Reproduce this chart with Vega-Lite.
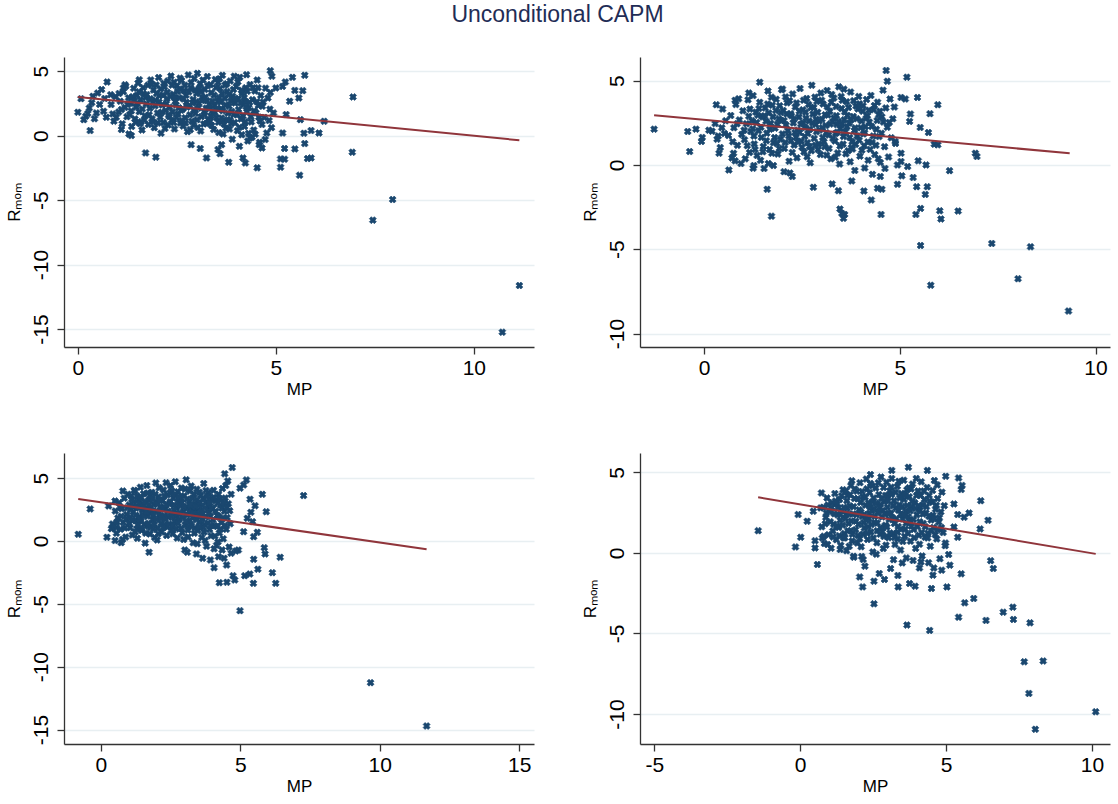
{
"$schema":"https://vega.github.io/schema/vega-lite/v6.json",
"background":"white",
"padding":{"left":5,"top":4,"right":4,"bottom":4},
"title":{"text":"Unconditional CAPM","fontSize":23,"font":"Liberation Sans","fontWeight":"normal","color":"#1f2d56","anchor":"middle","offset":30},
"config":{
 "font":"Liberation Sans",
 "view":{"stroke":null},
 "axis":{"domainColor":"#333333","domainWidth":1.3,"tickColor":"#333333","tickWidth":1.3,"tickSize":7,"labelFont":"Liberation Sans","labelFontSize":21,"labelColor":"#000000","labelPadding":3,"titleFont":"Liberation Sans","titleFontSize":17,"titleFontWeight":"normal","titleColor":"#000000","titlePadding":3,"grid":false,"labelExpr":"datum.value + ''"},
 "axisY":{"grid":true,"gridColor":"#e8eff2","gridWidth":1.6,"labelAngle":-90,"labelPadding":6,"titlePadding":7},
 "point":{"shape":"cross","angle":45,"filled":true,"size":50,"color":"#1a476f","opacity":1,"stroke":"#1a476f","strokeWidth":0.6}
},
"datasets":{
"a":[{"x":6.95,"y":3.0},{"x":6.93,"y":-1.29},{"x":7.95,"y":-4.96},{"x":7.45,"y":-6.56},{"x":11.15,"y":-11.63},{"x":10.72,"y":-15.25},{"x":6.22,"y":1.11},{"x":6.09,"y":0.2},{"x":5.89,"y":0.39},{"x":5.73,"y":4.68},{"x":5.68,"y":3.49},{"x":5.48,"y":3.51},{"x":5.42,"y":4.52},{"x":5.58,"y":2.92},{"x":5.62,"y":1.24},{"x":5.71,"y":0.18},{"x":5.73,"y":-0.62},{"x":5.48,"y":-1.03},{"x":5.22,"y":-1.0},{"x":5.8,"y":-1.78},{"x":5.89,"y":-1.73},{"x":5.6,"y":-3.07},{"x":5.12,"y":-1.81},{"x":5.22,"y":-1.83},{"x":5.12,"y":-2.45},{"x":4.53,"y":-2.5},{"x":4.23,"y":-2.12},{"x":4.17,"y":-1.73},{"x":3.81,"y":-2.07},{"x":3.25,"y":-1.73},{"x":3.09,"y":-1.0},{"x":2.86,"y":-0.7},{"x":1.97,"y":-1.68},{"x":1.71,"y":-1.34},{"x":0.31,"y":0.39},{"x":0.0,"y":1.81},{"x":0.08,"y":2.87},{"x":0.74,"y":4.16},{"x":1.55,"y":4.34},{"x":4.86,"y":5.04},{"x":4.9,"y":4.6},{"x":5.24,"y":4.16},{"x":5.17,"y":3.82},{"x":5.0,"y":3.7},{"x":5.26,"y":1.63},{"x":5.17,"y":0.2},{"x":4.94,"y":1.76},{"x":5.35,"y":2.66},{"x":4.65,"y":-0.96},{"x":4.58,"y":-0.7},{"x":4.35,"y":-0.18},{"x":3.63,"y":-0.7},{"x":3.54,"y":-1.08},{"x":3.59,"y":-1.4},{"x":4.08,"y":-0.83},{"x":1.35,"y":0.0},{"x":1.29,"y":0.13},{"x":1.1,"y":0.47},{"x":0.5,"y":3.3},{"x":0.6,"y":3.57},{"x":0.29,"y":2.14},{"x":0.2,"y":1.5},{"x":0.15,"y":1.24},{"x":0.47,"y":1.76},{"x":0.65,"y":1.89},{"x":0.83,"y":3.18},{"x":1.15,"y":3.7},{"x":1.19,"y":3.95},{"x":0.35,"y":2.55},{"x":0.42,"y":1.31},{"x":0.55,"y":2.42},{"x":0.68,"y":2.88},{"x":0.72,"y":1.42},{"x":0.25,"y":1.71},{"x":0.38,"y":3.05},
{"x":0.84,"y":2.41},{"x":0.91,"y":1.12},{"x":0.95,"y":3.02},{"x":1.03,"y":1.83},{"x":1.07,"y":2.66},{"x":1.12,"y":0.92},{"x":1.15,"y":3.41},{"x":1.19,"y":2.18},{"x":1.24,"y":1.47},{"x":1.28,"y":2.93},{"x":0.88,"y":1.68},{"x":1.21,"y":3.83},
{"x":1.33,"y":2.51},{"x":1.36,"y":0.71},{"x":1.41,"y":3.67},{"x":1.44,"y":1.29},{"x":1.47,"y":2.22},{"x":1.52,"y":4.08},{"x":1.55,"y":1.86},{"x":1.58,"y":2.78},{"x":1.62,"y":0.43},{"x":1.66,"y":3.24},{"x":1.69,"y":1.54},{"x":1.73,"y":2.47},{"x":1.77,"y":3.91},{"x":1.35,"y":1.92},{"x":1.49,"y":3.12},{"x":1.6,"y":1.08},{"x":1.71,"y":2.96},{"x":1.78,"y":0.86},
{"x":1.82,"y":2.13},{"x":1.84,"y":4.32},{"x":1.87,"y":1.31},{"x":1.91,"y":3.54},{"x":1.93,"y":0.62},{"x":1.96,"y":2.72},{"x":2.01,"y":1.76},{"x":2.04,"y":4.51},{"x":2.06,"y":3.09},{"x":2.1,"y":0.18},{"x":2.13,"y":2.38},{"x":2.16,"y":1.02},{"x":2.19,"y":3.78},{"x":2.22,"y":1.94},{"x":2.25,"y":2.87},{"x":2.28,"y":0.83},{"x":1.89,"y":2.58},{"x":1.98,"y":3.93},{"x":2.08,"y":1.43},{"x":2.17,"y":4.07},{"x":2.26,"y":3.36},{"x":2.29,"y":1.58},
{"x":2.32,"y":2.21},{"x":2.35,"y":4.62},{"x":2.37,"y":1.19},{"x":2.41,"y":3.21},{"x":2.44,"y":0.52},{"x":2.46,"y":2.64},{"x":2.5,"y":3.87},{"x":2.53,"y":1.67},{"x":2.56,"y":2.94},{"x":2.59,"y":0.97},{"x":2.62,"y":4.28},{"x":2.65,"y":2.07},{"x":2.68,"y":3.49},{"x":2.71,"y":1.38},{"x":2.74,"y":2.58},{"x":2.77,"y":0.31},{"x":2.79,"y":4.71},{"x":2.39,"y":1.84},{"x":2.48,"y":2.39},{"x":2.57,"y":3.62},{"x":2.66,"y":0.74},{"x":2.73,"y":3.14},{"x":2.43,"y":4.14},{"x":2.61,"y":1.96},
{"x":2.82,"y":2.32},{"x":2.85,"y":3.72},{"x":2.88,"y":1.12},{"x":2.91,"y":2.81},{"x":2.94,"y":4.44},{"x":2.97,"y":1.73},{"x":3.0,"y":3.26},{"x":3.03,"y":0.63},{"x":3.06,"y":2.49},{"x":3.09,"y":4.02},{"x":3.12,"y":1.47},{"x":3.15,"y":2.96},{"x":3.18,"y":0.91},{"x":3.21,"y":3.58},{"x":3.24,"y":2.13},{"x":3.27,"y":4.59},{"x":3.29,"y":1.26},{"x":2.84,"y":0.46},{"x":2.93,"y":1.98},{"x":3.02,"y":4.83},{"x":3.11,"y":3.41},{"x":3.2,"y":1.83},{"x":3.26,"y":2.71},{"x":2.99,"y":2.62},
{"x":3.32,"y":2.44},{"x":3.35,"y":3.97},{"x":3.38,"y":0.78},{"x":3.41,"y":1.91},{"x":3.44,"y":3.13},{"x":3.47,"y":4.36},{"x":3.5,"y":1.38},{"x":3.53,"y":2.67},{"x":3.56,"y":0.24},{"x":3.59,"y":3.66},{"x":3.62,"y":2.08},{"x":3.65,"y":4.68},{"x":3.68,"y":1.17},{"x":3.71,"y":2.89},{"x":3.74,"y":0.57},{"x":3.77,"y":3.43},{"x":3.79,"y":1.74},{"x":3.36,"y":1.52},{"x":3.45,"y":2.31},{"x":3.54,"y":4.13},{"x":3.63,"y":1.36},{"x":3.72,"y":3.92},{"x":3.57,"y":2.94},{"x":3.67,"y":0.12},
{"x":3.82,"y":2.27},{"x":3.85,"y":4.24},{"x":3.88,"y":0.94},{"x":3.91,"y":3.06},{"x":3.94,"y":1.63},{"x":3.97,"y":2.53},{"x":4.0,"y":3.81},{"x":4.03,"y":0.38},{"x":4.06,"y":2.02},{"x":4.09,"y":4.52},{"x":4.12,"y":1.29},{"x":4.15,"y":3.33},{"x":4.18,"y":2.41},{"x":4.21,"y":0.71},{"x":4.24,"y":3.71},{"x":4.27,"y":1.84},{"x":4.29,"y":-0.41},{"x":3.84,"y":1.22},{"x":3.95,"y":4.61},{"x":4.05,"y":2.86},{"x":4.14,"y":0.07},{"x":4.22,"y":2.68},{"x":3.9,"y":-0.28},{"x":4.26,"y":4.73},
{"x":4.32,"y":2.16},{"x":4.35,"y":3.96},{"x":4.38,"y":1.06},{"x":4.41,"y":2.79},{"x":4.44,"y":0.43},{"x":4.47,"y":3.46},{"x":4.5,"y":1.77},{"x":4.53,"y":4.31},{"x":4.56,"y":2.34},{"x":4.59,"y":-0.52},{"x":4.62,"y":3.12},{"x":4.65,"y":0.86},{"x":4.68,"y":2.61},{"x":4.71,"y":1.41},{"x":4.74,"y":3.68},{"x":4.77,"y":0.21},{"x":4.8,"y":2.92},{"x":4.83,"y":1.17},{"x":4.86,"y":3.34},{"x":4.89,"y":0.62},{"x":4.4,"y":-0.12},{"x":4.57,"y":1.43},{"x":4.73,"y":-0.31},{"x":4.85,"y":2.05},
{"x":1.31,"y":1.63},{"x":1.38,"y":3.02},{"x":1.43,"y":2.71},{"x":1.46,"y":1.04},{"x":1.5,"y":2.49},{"x":1.54,"y":3.41},{"x":1.57,"y":0.92},{"x":1.63,"y":2.06},{"x":1.65,"y":3.72},{"x":1.68,"y":1.21},{"x":1.74,"y":3.18},{"x":1.8,"y":1.62},{"x":1.83,"y":2.86},{"x":1.86,"y":3.98},{"x":1.9,"y":1.08},{"x":1.95,"y":2.31},{"x":1.99,"y":3.26},{"x":2.02,"y":0.97},{"x":2.05,"y":2.61},{"x":2.09,"y":3.62},{"x":2.12,"y":1.81},{"x":2.15,"y":3.14},{"x":2.2,"y":0.56},{"x":2.23,"y":2.47},{"x":2.27,"y":4.24},{"x":2.31,"y":1.47},{"x":2.34,"y":3.03},{"x":2.38,"y":3.92},{"x":2.42,"y":1.02},{"x":2.45,"y":2.91},{"x":2.49,"y":1.41},{"x":2.52,"y":3.43},{"x":2.55,"y":2.16},{"x":2.58,"y":4.46},{"x":2.63,"y":1.18},{"x":2.67,"y":2.84},{"x":2.7,"y":3.91},{"x":2.72,"y":0.98},{"x":2.76,"y":2.21},{"x":2.8,"y":3.38},{"x":2.83,"y":1.62},{"x":2.86,"y":4.12},{"x":2.9,"y":2.53},{"x":2.92,"y":0.82},{"x":2.96,"y":3.54},{"x":3.01,"y":1.24},{"x":3.04,"y":2.14},{"x":3.07,"y":3.68},{"x":3.1,"y":0.36},{"x":3.13,"y":2.73},{"x":3.16,"y":4.31},{"x":3.19,"y":1.61},{"x":3.22,"y":2.98},{"x":3.25,"y":0.94},{"x":3.28,"y":3.86},{"x":3.31,"y":2.09},{"x":3.34,"y":1.12},{"x":3.37,"y":3.32},{"x":3.4,"y":2.66},{"x":3.43,"y":0.47},{"x":3.46,"y":1.79},{"x":3.49,"y":3.74},{"x":3.52,"y":2.12},{"x":3.55,"y":1.04},{"x":3.58,"y":4.41},{"x":3.61,"y":2.61},{"x":3.64,"y":3.27},{"x":3.66,"y":1.93},{"x":3.69,"y":0.89},{"x":3.73,"y":2.38},{"x":3.76,"y":4.02},{"x":3.78,"y":1.21},{"x":3.81,"y":3.18},{"x":3.83,"y":0.51},{"x":3.86,"y":2.69},{"x":3.89,"y":1.88},{"x":3.93,"y":3.58},{"x":3.96,"y":1.02},{"x":3.99,"y":2.87},{"x":4.02,"y":1.61},{"x":4.04,"y":4.17},{"x":4.08,"y":0.64},{"x":4.11,"y":2.54},{"x":4.13,"y":3.52},{"x":4.17,"y":1.52},{"x":4.2,"y":2.96},{"x":4.23,"y":1.07},{"x":4.25,"y":2.24},{"x":4.28,"y":3.44},{"x":4.31,"y":0.18},{"x":4.34,"y":2.57},{"x":4.37,"y":1.46},{"x":4.42,"y":3.71},{"x":4.45,"y":1.92},{"x":4.48,"y":0.11},{"x":4.52,"y":2.62},{"x":4.55,"y":3.72},{"x":4.6,"y":1.14},{"x":4.66,"y":2.28},{"x":1.26,"y":2.41},{"x":1.1,"y":2.02},{"x":1.04,"y":3.27},{"x":0.97,"y":1.42}],
"b":[{"x":-1.28,"y":2.12},{"x":-0.42,"y":1.98},{"x":-0.21,"y":2.12},{"x":-0.37,"y":0.79},{"x":-0.05,"y":1.63},{"x":-0.07,"y":1.39},{"x":0.63,"y":-0.3},{"x":1.61,"y":-1.45},{"x":1.72,"y":-3.04},{"x":1.42,"y":4.9},{"x":2.0,"y":4.5},{"x":4.65,"y":5.6},{"x":4.68,"y":4.96},{"x":5.18,"y":5.2},{"x":5.45,"y":4.0},{"x":5.97,"y":3.57},{"x":5.77,"y":3.04},{"x":5.73,"y":1.92},{"x":5.52,"y":2.22},{"x":5.88,"y":1.23},{"x":5.97,"y":1.19},{"x":6.93,"y":0.69},{"x":6.97,"y":0.5},{"x":6.27,"y":-0.34},{"x":5.67,"y":0.0},{"x":5.47,"y":0.24},{"x":5.34,"y":-0.75},{"x":5.43,"y":-1.29},{"x":5.7,"y":-1.29},{"x":5.65,"y":-1.75},{"x":5.53,"y":-2.58},{"x":5.41,"y":-2.94},{"x":6.02,"y":-2.72},{"x":6.05,"y":-3.21},{"x":6.49,"y":-2.74},{"x":5.53,"y":-4.78},{"x":7.35,"y":-4.66},{"x":8.34,"y":-4.86},{"x":5.79,"y":-7.14},{"x":8.02,"y":-6.75},{"x":9.31,"y":-8.67},{"x":4.52,"y":-2.94},{"x":4.27,"y":-2.08},{"x":4.08,"y":-1.55},{"x":3.56,"y":-3.17},{"x":3.52,"y":-2.88},{"x":3.47,"y":-2.62},{"x":3.59,"y":-2.94},{"x":3.43,"y":-1.53},{"x":2.79,"y":-1.33},{"x":3.27,"y":-1.13},{"x":3.77,"y":-0.95},{"x":4.94,"y":-1.15},{"x":5.05,"y":-0.65},{"x":5.03,"y":0.2},{"x":4.94,"y":0.0},{"x":5.03,"y":0.69},{"x":5.2,"y":-0.1},{"x":5.25,"y":2.58},{"x":5.27,"y":3.02},{"x":5.14,"y":3.91},{"x":5.03,"y":4.0},{"x":4.88,"y":1.39},{"x":4.43,"y":-1.39},{"x":4.54,"y":-1.45},{"x":4.5,"y":-0.69},{"x":2.04,"y":-0.4},{"x":2.25,"y":-0.69},{"x":1.25,"y":-0.2},{"x":1.27,"y":-0.04},{"x":1.77,"y":-0.04},{"x":1.64,"y":0.08},{"x":0.79,"y":0.24},{"x":0.75,"y":0.69},{"x":0.38,"y":0.69},{"x":0.41,"y":1.03},{"x":0.31,"y":3.57},{"x":0.47,"y":3.31},{"x":0.79,"y":3.83},{"x":1.14,"y":4.27},{"x":0.2,"y":2.0},{"x":0.28,"y":2.45},{"x":0.36,"y":1.71},{"x":0.45,"y":2.2},{"x":0.52,"y":1.86},{"x":0.12,"y":2.06},{"x":0.55,"y":2.62},{"x":0.33,"y":1.52},
{"x":0.62,"y":1.74},{"x":0.68,"y":2.93},{"x":0.71,"y":0.41},{"x":0.76,"y":2.21},{"x":0.81,"y":3.58},{"x":0.85,"y":1.16},{"x":0.9,"y":2.67},{"x":0.94,"y":0.08},{"x":0.99,"y":3.21},{"x":1.03,"y":1.49},{"x":1.08,"y":2.44},{"x":1.12,"y":3.86},{"x":1.16,"y":0.73},{"x":1.19,"y":1.98},{"x":0.73,"y":1.37},{"x":0.88,"y":3.92},{"x":1.05,"y":0.36},{"x":1.14,"y":2.88},
{"x":1.22,"y":2.62},{"x":1.25,"y":4.11},{"x":1.28,"y":1.24},{"x":1.32,"y":3.13},{"x":1.35,"y":0.56},{"x":1.39,"y":2.02},{"x":1.42,"y":3.71},{"x":1.46,"y":1.63},{"x":1.49,"y":2.84},{"x":1.53,"y":-0.21},{"x":1.56,"y":3.37},{"x":1.6,"y":1.88},{"x":1.63,"y":4.38},{"x":1.67,"y":0.91},{"x":1.7,"y":2.47},{"x":1.74,"y":3.54},{"x":1.77,"y":1.31},{"x":1.27,"y":1.71},{"x":1.44,"y":0.27},{"x":1.58,"y":2.59},{"x":1.72,"y":4.02},{"x":1.37,"y":2.94},{"x":1.51,"y":1.09},{"x":1.65,"y":3.08},
{"x":1.81,"y":2.18},{"x":1.84,"y":3.89},{"x":1.88,"y":0.64},{"x":1.91,"y":2.74},{"x":1.95,"y":1.52},{"x":1.98,"y":4.46},{"x":2.02,"y":3.22},{"x":2.05,"y":0.98},{"x":2.09,"y":2.37},{"x":2.12,"y":3.68},{"x":2.16,"y":1.71},{"x":2.19,"y":-0.48},{"x":2.23,"y":2.91},{"x":2.26,"y":4.21},{"x":2.3,"y":1.18},{"x":2.33,"y":3.43},{"x":2.37,"y":0.42},{"x":2.39,"y":2.06},{"x":1.86,"y":1.27},{"x":1.97,"y":2.63},{"x":2.08,"y":4.03},{"x":2.17,"y":0.21},{"x":2.28,"y":2.49},{"x":2.35,"y":1.64},{"x":1.93,"y":3.51},{"x":2.21,"y":3.04},
{"x":2.42,"y":2.84},{"x":2.45,"y":4.53},{"x":2.48,"y":1.41},{"x":2.52,"y":3.27},{"x":2.55,"y":0.77},{"x":2.58,"y":2.22},{"x":2.62,"y":3.94},{"x":2.65,"y":1.86},{"x":2.68,"y":2.61},{"x":2.71,"y":0.13},{"x":2.75,"y":4.72},{"x":2.78,"y":3.02},{"x":2.81,"y":1.57},{"x":2.85,"y":2.39},{"x":2.88,"y":3.76},{"x":2.91,"y":0.92},{"x":2.95,"y":2.07},{"x":2.98,"y":4.27},{"x":2.44,"y":1.92},{"x":2.53,"y":2.48},{"x":2.63,"y":0.48},{"x":2.73,"y":3.41},{"x":2.83,"y":4.02},{"x":2.93,"y":1.24},{"x":2.59,"y":3.13},{"x":2.86,"y":2.71},{"x":2.69,"y":1.09},
{"x":3.01,"y":2.71},{"x":3.04,"y":3.61},{"x":3.08,"y":1.08},{"x":3.11,"y":2.33},{"x":3.14,"y":4.41},{"x":3.18,"y":1.77},{"x":3.21,"y":3.18},{"x":3.24,"y":0.36},{"x":3.28,"y":2.56},{"x":3.31,"y":3.97},{"x":3.34,"y":1.42},{"x":3.38,"y":2.92},{"x":3.41,"y":0.71},{"x":3.44,"y":4.63},{"x":3.48,"y":2.14},{"x":3.51,"y":3.34},{"x":3.55,"y":1.23},{"x":3.58,"y":2.68},{"x":3.03,"y":1.63},{"x":3.16,"y":2.96},{"x":3.26,"y":4.18},{"x":3.36,"y":1.86},{"x":3.46,"y":0.05},{"x":3.53,"y":3.83},{"x":3.13,"y":0.58},{"x":3.39,"y":2.39},{"x":3.57,"y":4.49},
{"x":3.61,"y":1.96},{"x":3.64,"y":3.74},{"x":3.68,"y":0.84},{"x":3.71,"y":2.48},{"x":3.74,"y":4.32},{"x":3.78,"y":1.38},{"x":3.81,"y":2.87},{"x":3.85,"y":-0.33},{"x":3.88,"y":3.49},{"x":3.91,"y":1.71},{"x":3.95,"y":4.06},{"x":3.98,"y":0.52},{"x":4.02,"y":2.61},{"x":4.05,"y":3.18},{"x":4.09,"y":1.14},{"x":4.12,"y":2.27},{"x":4.15,"y":3.88},{"x":4.19,"y":0.27},{"x":3.66,"y":2.93},{"x":3.76,"y":1.02},{"x":3.86,"y":2.19},{"x":3.97,"y":3.62},{"x":4.07,"y":1.84},{"x":4.17,"y":2.92},{"x":3.73,"y":0.19},{"x":4.1,"y":-0.18},
{"x":4.22,"y":2.54},{"x":4.26,"y":4.12},{"x":4.29,"y":1.33},{"x":4.33,"y":3.27},{"x":4.36,"y":0.61},{"x":4.4,"y":2.11},{"x":4.43,"y":3.72},{"x":4.47,"y":1.68},{"x":4.5,"y":0.14},{"x":4.54,"y":2.86},{"x":4.57,"y":4.43},{"x":4.61,"y":1.08},{"x":4.64,"y":3.38},{"x":4.68,"y":2.23},{"x":4.71,"y":0.47},{"x":4.75,"y":3.91},{"x":4.78,"y":1.61},{"x":4.82,"y":2.74},{"x":4.86,"y":3.43},{"x":4.89,"y":1.27},{"x":4.3,"y":-0.56},{"x":4.46,"y":2.97},{"x":4.62,"y":-0.21},{"x":4.73,"y":2.51},
{"x":1.02,"y":2.06},{"x":1.1,"y":1.14},{"x":1.17,"y":3.31},{"x":1.24,"y":2.14},{"x":1.3,"y":0.91},{"x":1.34,"y":2.51},{"x":1.4,"y":3.34},{"x":1.45,"y":2.23},{"x":1.5,"y":0.78},{"x":1.54,"y":2.91},{"x":1.59,"y":1.43},{"x":1.62,"y":3.61},{"x":1.68,"y":2.12},{"x":1.73,"y":0.69},{"x":1.76,"y":2.86},{"x":1.8,"y":1.62},{"x":1.83,"y":3.22},{"x":1.87,"y":2.41},{"x":1.92,"y":0.97},{"x":1.96,"y":3.11},{"x":2.0,"y":1.84},{"x":2.04,"y":2.63},{"x":2.07,"y":1.33},{"x":2.11,"y":3.02},{"x":2.14,"y":2.02},{"x":2.18,"y":3.81},{"x":2.22,"y":1.44},{"x":2.25,"y":0.74},{"x":2.29,"y":2.71},{"x":2.32,"y":1.92},{"x":2.36,"y":3.67},{"x":2.4,"y":1.36},{"x":2.43,"y":3.18},{"x":2.47,"y":2.41},{"x":2.5,"y":1.04},{"x":2.54,"y":3.84},{"x":2.57,"y":1.68},{"x":2.6,"y":2.77},{"x":2.64,"y":1.31},{"x":2.67,"y":3.59},{"x":2.7,"y":2.12},{"x":2.74,"y":0.84},{"x":2.77,"y":2.48},{"x":2.8,"y":3.41},{"x":2.84,"y":1.16},{"x":2.87,"y":1.96},{"x":2.9,"y":3.12},{"x":2.94,"y":2.61},{"x":2.97,"y":0.61},{"x":3.0,"y":3.84},{"x":3.02,"y":2.21},{"x":3.06,"y":1.37},{"x":3.09,"y":2.97},{"x":3.12,"y":1.91},{"x":3.15,"y":3.44},{"x":3.19,"y":0.98},{"x":3.22,"y":2.42},{"x":3.25,"y":3.71},{"x":3.29,"y":1.56},{"x":3.32,"y":2.78},{"x":3.35,"y":0.46},{"x":3.37,"y":3.46},{"x":3.4,"y":1.94},{"x":3.43,"y":2.57},{"x":3.47,"y":1.12},{"x":3.5,"y":4.06},{"x":3.52,"y":2.42},{"x":3.56,"y":1.68},{"x":3.59,"y":3.14},{"x":3.62,"y":0.66},{"x":3.65,"y":2.27},{"x":3.69,"y":3.41},{"x":3.72,"y":1.62},{"x":3.75,"y":2.66},{"x":3.79,"y":0.94},{"x":3.82,"y":3.81},{"x":3.84,"y":2.04},{"x":3.87,"y":1.22},{"x":3.9,"y":2.74},{"x":3.93,"y":3.32},{"x":3.96,"y":1.46},{"x":4.0,"y":2.21},{"x":4.03,"y":0.87},{"x":4.06,"y":3.51},{"x":4.1,"y":1.91},{"x":4.14,"y":2.76},{"x":4.18,"y":1.36},{"x":4.21,"y":3.24},{"x":4.24,"y":0.92},{"x":4.28,"y":2.28},{"x":4.32,"y":1.71},{"x":4.35,"y":3.52},{"x":4.39,"y":1.16},{"x":4.42,"y":2.64},{"x":4.45,"y":0.36},{"x":4.49,"y":3.18},{"x":4.53,"y":1.88},{"x":4.58,"y":2.54},{"x":0.96,"y":1.81},{"x":0.84,"y":2.44}],
"c":[{"x":-0.81,"y":0.53},{"x":-0.38,"y":2.55},{"x":0.22,"y":0.29},{"x":0.28,"y":2.79},{"x":0.51,"y":0.03},{"x":0.73,"y":-0.13},{"x":0.51,"y":3.18},{"x":0.79,"y":3.98},{"x":1.73,"y":-0.9},{"x":7.27,"y":3.61},{"x":4.99,"y":-5.54},{"x":9.67,"y":-11.27},{"x":11.68,"y":-14.72},{"x":4.71,"y":5.84},{"x":4.44,"y":5.34},{"x":4.55,"y":4.78},{"x":5.22,"y":4.86},{"x":5.12,"y":4.46},{"x":4.99,"y":4.2},{"x":5.79,"y":3.71},{"x":5.35,"y":3.32},{"x":5.53,"y":2.81},{"x":5.93,"y":2.33},{"x":5.38,"y":2.28},{"x":5.25,"y":1.8},{"x":5.44,"y":1.54},{"x":5.12,"y":0.74},{"x":5.61,"y":0.69},{"x":5.48,"y":0.34},{"x":5.86,"y":-0.53},{"x":5.89,"y":-1.03},{"x":6.43,"y":-1.3},{"x":5.48,"y":-1.46},{"x":5.63,"y":-2.25},{"x":6.15,"y":-2.52},{"x":6.27,"y":-3.37},{"x":5.47,"y":-3.37},{"x":5.16,"y":-2.76},{"x":5.34,"y":-2.63},{"x":4.74,"y":-2.76},{"x":4.8,"y":-3.1},{"x":4.52,"y":-3.29},{"x":4.25,"y":-3.32},{"x":4.51,"y":-1.91},{"x":4.06,"y":-2.12},{"x":3.93,"y":-1.51},{"x":4.93,"y":-0.72},{"x":4.84,"y":-0.8},{"x":4.67,"y":-0.98},{"x":4.42,"y":-1.38},{"x":4.22,"y":-1.25},{"x":3.65,"y":-1.38},{"x":3.43,"y":-1.03},{"x":3.1,"y":-0.9},{"x":0.42,"y":1.35},{"x":0.38,"y":0.98},{"x":0.55,"y":1.08},
{"x":0.47,"y":1.21},{"x":0.52,"y":2.38},{"x":0.56,"y":0.62},{"x":0.61,"y":1.83},{"x":0.66,"y":3.04},{"x":0.71,"y":0.94},{"x":0.75,"y":2.56},{"x":0.8,"y":1.47},{"x":0.84,"y":3.41},{"x":0.89,"y":0.31},{"x":0.93,"y":2.11},{"x":0.97,"y":3.72},{"x":0.58,"y":1.52},{"x":0.69,"y":2.71},{"x":0.78,"y":0.12},{"x":0.91,"y":1.74},
{"x":1.02,"y":2.87},{"x":1.05,"y":1.06},{"x":1.09,"y":3.58},{"x":1.13,"y":0.48},{"x":1.16,"y":2.31},{"x":1.2,"y":4.03},{"x":1.24,"y":1.62},{"x":1.27,"y":2.74},{"x":1.31,"y":0.21},{"x":1.35,"y":3.29},{"x":1.38,"y":1.93},{"x":1.42,"y":4.28},{"x":1.46,"y":0.84},{"x":1.49,"y":2.47},{"x":1.53,"y":3.76},{"x":1.56,"y":1.34},{"x":1.59,"y":-0.17},{"x":1.07,"y":1.88},{"x":1.18,"y":3.12},{"x":1.29,"y":0.97},{"x":1.4,"y":2.96},{"x":1.51,"y":2.11},{"x":1.22,"y":3.96},{"x":1.44,"y":1.58},
{"x":1.62,"y":2.64},{"x":1.65,"y":4.41},{"x":1.69,"y":1.17},{"x":1.72,"y":3.26},{"x":1.76,"y":0.55},{"x":1.79,"y":2.18},{"x":1.83,"y":3.87},{"x":1.86,"y":1.69},{"x":1.9,"y":2.91},{"x":1.93,"y":0.27},{"x":1.97,"y":4.62},{"x":2.0,"y":2.38},{"x":2.04,"y":1.02},{"x":2.07,"y":3.51},{"x":2.11,"y":1.84},{"x":2.14,"y":2.73},{"x":2.18,"y":0.71},{"x":1.67,"y":1.98},{"x":1.77,"y":3.62},{"x":1.88,"y":0.94},{"x":1.98,"y":3.14},{"x":2.09,"y":4.23},{"x":2.16,"y":1.42},{"x":1.73,"y":2.51},{"x":2.02,"y":0.08},
{"x":2.22,"y":3.22},{"x":2.25,"y":4.06},{"x":2.29,"y":1.31},{"x":2.32,"y":2.56},{"x":2.36,"y":0.44},{"x":2.39,"y":3.67},{"x":2.43,"y":1.88},{"x":2.46,"y":2.96},{"x":2.5,"y":4.41},{"x":2.53,"y":0.86},{"x":2.57,"y":2.21},{"x":2.6,"y":3.43},{"x":2.64,"y":1.57},{"x":2.67,"y":4.71},{"x":2.71,"y":2.64},{"x":2.74,"y":0.23},{"x":2.78,"y":3.08},{"x":2.27,"y":2.03},{"x":2.38,"y":1.12},{"x":2.48,"y":3.84},{"x":2.58,"y":0.57},{"x":2.69,"y":1.96},{"x":2.76,"y":3.91},{"x":2.34,"y":4.64},{"x":2.62,"y":2.87},
{"x":2.82,"y":1.73},{"x":2.85,"y":2.81},{"x":2.89,"y":4.22},{"x":2.92,"y":0.66},{"x":2.96,"y":2.34},{"x":2.99,"y":3.59},{"x":3.03,"y":1.28},{"x":3.06,"y":4.87},{"x":3.1,"y":2.07},{"x":3.13,"y":0.31},{"x":3.17,"y":3.16},{"x":3.2,"y":1.62},{"x":3.24,"y":4.38},{"x":3.27,"y":2.52},{"x":3.31,"y":-0.14},{"x":3.34,"y":3.71},{"x":3.38,"y":1.04},{"x":2.87,"y":3.42},{"x":2.97,"y":0.12},{"x":3.08,"y":2.69},{"x":3.19,"y":3.98},{"x":3.29,"y":1.87},{"x":3.36,"y":2.94},{"x":3.01,"y":-0.72},{"x":3.15,"y":1.16},
{"x":3.41,"y":2.41},{"x":3.44,"y":4.12},{"x":3.48,"y":0.83},{"x":3.51,"y":2.93},{"x":3.55,"y":1.52},{"x":3.58,"y":3.64},{"x":3.62,"y":0.28},{"x":3.65,"y":2.17},{"x":3.69,"y":4.57},{"x":3.72,"y":1.31},{"x":3.76,"y":3.08},{"x":3.79,"y":-0.41},{"x":3.83,"y":2.46},{"x":3.86,"y":3.86},{"x":3.9,"y":0.91},{"x":3.93,"y":1.96},{"x":3.97,"y":3.37},{"x":3.46,"y":-0.22},{"x":3.57,"y":2.63},{"x":3.67,"y":1.08},{"x":3.77,"y":4.02},{"x":3.87,"y":2.79},{"x":3.95,"y":0.42},{"x":3.53,"y":3.88},{"x":3.74,"y":0.04},
{"x":4.01,"y":2.58},{"x":4.04,"y":4.03},{"x":4.08,"y":1.22},{"x":4.11,"y":3.19},{"x":4.15,"y":-0.33},{"x":4.18,"y":2.02},{"x":4.22,"y":3.71},{"x":4.25,"y":0.64},{"x":4.29,"y":2.84},{"x":4.32,"y":1.48},{"x":4.36,"y":4.17},{"x":4.39,"y":0.17},{"x":4.43,"y":2.37},{"x":4.46,"y":3.42},{"x":4.5,"y":0.93},{"x":4.53,"y":1.86},{"x":4.57,"y":2.96},{"x":4.6,"y":-0.48},{"x":4.64,"y":1.37},{"x":4.67,"y":3.71},{"x":4.06,"y":-0.62},{"x":4.2,"y":-0.08},{"x":4.35,"y":-0.71},{"x":4.48,"y":4.41},{"x":4.62,"y":2.41},
{"x":1.01,"y":1.41},{"x":1.06,"y":2.51},{"x":1.11,"y":3.31},{"x":1.14,"y":1.63},{"x":1.19,"y":2.73},{"x":1.23,"y":0.72},{"x":1.26,"y":2.04},{"x":1.3,"y":3.57},{"x":1.33,"y":1.26},{"x":1.37,"y":2.62},{"x":1.41,"y":1.72},{"x":1.45,"y":3.43},{"x":1.48,"y":0.98},{"x":1.52,"y":2.77},{"x":1.55,"y":1.96},{"x":1.58,"y":3.14},{"x":1.61,"y":0.62},{"x":1.64,"y":2.31},{"x":1.68,"y":3.81},{"x":1.71,"y":1.42},{"x":1.74,"y":2.86},{"x":1.78,"y":1.08},{"x":1.81,"y":2.47},{"x":1.85,"y":3.34},{"x":1.89,"y":2.06},{"x":1.92,"y":1.31},{"x":1.95,"y":3.71},{"x":1.99,"y":1.72},{"x":2.03,"y":2.93},{"x":2.06,"y":0.58},{"x":2.1,"y":2.24},{"x":2.13,"y":3.24},{"x":2.17,"y":1.88},{"x":2.2,"y":2.62},{"x":2.24,"y":1.07},{"x":2.28,"y":3.58},{"x":2.31,"y":1.72},{"x":2.35,"y":2.91},{"x":2.41,"y":2.37},{"x":2.45,"y":1.36},{"x":2.49,"y":3.12},{"x":2.52,"y":1.98},{"x":2.55,"y":3.98},{"x":2.59,"y":1.22},{"x":2.63,"y":2.46},{"x":2.66,"y":3.67},{"x":2.7,"y":0.96},{"x":2.73,"y":2.12},{"x":2.77,"y":1.41},{"x":2.8,"y":3.52},{"x":2.84,"y":2.24},{"x":2.88,"y":1.02},{"x":2.91,"y":3.06},{"x":2.94,"y":1.86},{"x":2.98,"y":2.71},{"x":3.02,"y":4.14},{"x":3.05,"y":1.57},{"x":3.09,"y":3.32},{"x":3.12,"y":0.88},{"x":3.16,"y":2.36},{"x":3.21,"y":2.87},{"x":3.25,"y":1.21},{"x":3.28,"y":3.41},{"x":3.32,"y":2.18},{"x":3.35,"y":0.62},{"x":3.39,"y":2.71},{"x":3.42,"y":1.68},{"x":3.45,"y":3.31},{"x":3.49,"y":2.02},{"x":3.52,"y":1.16},{"x":3.56,"y":3.06},{"x":3.59,"y":2.31},{"x":3.63,"y":1.73},{"x":3.66,"y":3.36},{"x":3.7,"y":0.71},{"x":3.73,"y":2.64},{"x":3.77,"y":1.93},{"x":3.8,"y":3.51},{"x":3.84,"y":1.44},{"x":3.88,"y":2.22},{"x":3.91,"y":3.02},{"x":3.94,"y":1.22},{"x":3.98,"y":2.61},{"x":4.02,"y":1.68},{"x":4.05,"y":3.47},{"x":4.09,"y":0.37},{"x":4.12,"y":2.36},{"x":4.16,"y":1.16},{"x":4.19,"y":2.98},{"x":4.23,"y":1.91},{"x":4.27,"y":3.33},{"x":4.3,"y":0.96},{"x":4.34,"y":2.61},{"x":4.38,"y":1.82},{"x":4.41,"y":3.02},{"x":4.45,"y":1.24},{"x":4.52,"y":2.68},{"x":0.95,"y":2.64},{"x":0.86,"y":1.04},{"x":0.73,"y":1.96}],
"d":[{"x":-1.44,"y":1.38},{"x":-0.16,"y":0.37},{"x":-0.07,"y":2.38},{"x":0.02,"y":0.97},{"x":0.24,"y":1.96},{"x":0.51,"y":0.31},{"x":0.59,"y":-0.72},{"x":0.51,"y":0.76},{"x":0.73,"y":3.72},{"x":2.53,"y":-3.16},{"x":2.04,"y":-1.49},{"x":2.14,"y":-2.11},{"x":2.53,"y":-1.76},{"x":2.71,"y":-1.28},{"x":2.89,"y":-1.65},{"x":3.1,"y":-0.97},{"x":3.35,"y":-1.4},{"x":3.36,"y":-2.11},{"x":3.75,"y":-1.9},{"x":3.94,"y":-2.07},{"x":3.66,"y":-4.48},{"x":4.44,"y":-4.81},{"x":4.5,"y":-2.21},{"x":5.03,"y":-2.11},{"x":5.52,"y":-1.3},{"x":5.64,"y":-3.1},{"x":5.95,"y":-2.83},{"x":5.43,"y":-3.99},{"x":6.37,"y":-4.19},{"x":6.96,"y":-3.68},{"x":7.29,"y":-3.37},{"x":7.31,"y":-4.13},{"x":7.88,"y":-4.34},{"x":7.68,"y":-6.76},{"x":8.33,"y":-6.71},{"x":7.84,"y":-8.72},{"x":8.06,"y":-10.95},{"x":10.13,"y":-9.86},{"x":6.53,"y":-0.48},{"x":6.62,"y":-0.97},{"x":6.17,"y":1.49},{"x":6.44,"y":2.02},{"x":6.19,"y":3.24},{"x":5.79,"y":2.48},{"x":5.62,"y":2.21},{"x":5.4,"y":2.38},{"x":5.27,"y":1.61},{"x":5.4,"y":0.97},{"x":5.13,"y":-0.76},{"x":5.09,"y":-0.1},{"x":4.97,"y":0.45},{"x":4.85,"y":-1.07},{"x":4.58,"y":-0.93},{"x":4.55,"y":-1.38},{"x":5.52,"y":3.93},{"x":5.43,"y":4.65},{"x":5.55,"y":4.19},{"x":4.99,"y":4.75},{"x":4.36,"y":5.12},{"x":3.71,"y":5.31},{"x":3.14,"y":5.12},{"x":2.41,"y":4.86},{"x":1.77,"y":4.48},{"x":5.27,"y":3.04},{"x":4.09,"y":-0.93},{"x":3.5,"y":-0.62},{"x":4.14,"y":-0.56},{"x":1.83,"y":-0.21},{"x":2.16,"y":-0.41},{"x":2.22,"y":-0.83},{"x":0.76,"y":0.93},{"x":0.94,"y":0.52},{"x":0.7,"y":2.79},{"x":0.45,"y":2.58},{"x":1.37,"y":0.21},
{"x":0.74,"y":1.62},{"x":0.79,"y":2.83},{"x":0.83,"y":0.58},{"x":0.88,"y":2.19},{"x":0.92,"y":3.41},{"x":0.97,"y":1.13},{"x":1.01,"y":2.57},{"x":1.06,"y":0.29},{"x":1.1,"y":3.12},{"x":1.15,"y":1.78},{"x":1.19,"y":3.68},{"x":1.24,"y":0.82},{"x":1.28,"y":2.36},{"x":0.81,"y":1.04},{"x":0.95,"y":2.97},{"x":1.12,"y":1.36},{"x":1.26,"y":3.02},
{"x":1.32,"y":1.58},{"x":1.35,"y":3.31},{"x":1.39,"y":0.47},{"x":1.43,"y":2.63},{"x":1.47,"y":3.92},{"x":1.51,"y":1.21},{"x":1.55,"y":2.14},{"x":1.59,"y":0.13},{"x":1.62,"y":3.58},{"x":1.66,"y":1.83},{"x":1.7,"y":2.91},{"x":1.74,"y":4.18},{"x":1.78,"y":0.74},{"x":1.82,"y":2.42},{"x":1.86,"y":3.37},{"x":1.37,"y":2.02},{"x":1.49,"y":0.93},{"x":1.61,"y":2.77},{"x":1.73,"y":1.37},{"x":1.84,"y":-0.27},{"x":1.57,"y":3.86},{"x":1.68,"y":0.41},
{"x":1.91,"y":1.97},{"x":1.94,"y":3.82},{"x":1.98,"y":1.08},{"x":2.02,"y":2.68},{"x":2.05,"y":4.36},{"x":2.09,"y":0.38},{"x":2.13,"y":2.27},{"x":2.16,"y":3.47},{"x":2.2,"y":1.54},{"x":2.24,"y":2.96},{"x":2.27,"y":4.58},{"x":2.31,"y":0.83},{"x":2.35,"y":2.12},{"x":2.38,"y":3.74},{"x":2.42,"y":1.29},{"x":2.46,"y":2.61},{"x":2.49,"y":0.06},{"x":1.96,"y":0.61},{"x":2.07,"y":3.13},{"x":2.18,"y":1.89},{"x":2.29,"y":3.98},{"x":2.4,"y":2.84},{"x":2.47,"y":4.17},{"x":2.11,"y":-0.22},{"x":2.33,"y":1.63},
{"x":2.52,"y":3.41},{"x":2.55,"y":1.87},{"x":2.59,"y":4.03},{"x":2.63,"y":0.63},{"x":2.66,"y":2.51},{"x":2.7,"y":3.62},{"x":2.74,"y":1.16},{"x":2.77,"y":4.71},{"x":2.81,"y":2.23},{"x":2.85,"y":0.27},{"x":2.88,"y":3.17},{"x":2.92,"y":1.72},{"x":2.96,"y":4.39},{"x":2.99,"y":2.84},{"x":3.03,"y":0.94},{"x":3.07,"y":3.86},{"x":2.54,"y":2.74},{"x":2.64,"y":1.38},{"x":2.75,"y":3.01},{"x":2.86,"y":4.06},{"x":2.94,"y":0.48},{"x":3.05,"y":2.07},{"x":2.61,"y":-0.08},{"x":2.82,"y":1.31},{"x":2.98,"y":3.53},
{"x":3.11,"y":2.46},{"x":3.14,"y":4.62},{"x":3.18,"y":1.19},{"x":3.22,"y":3.24},{"x":3.25,"y":0.52},{"x":3.29,"y":2.78},{"x":3.33,"y":4.13},{"x":3.36,"y":1.64},{"x":3.4,"y":2.98},{"x":3.44,"y":0.18},{"x":3.47,"y":3.69},{"x":3.51,"y":2.11},{"x":3.55,"y":4.51},{"x":3.58,"y":1.03},{"x":3.62,"y":2.59},{"x":3.66,"y":3.92},{"x":3.13,"y":3.63},{"x":3.23,"y":1.82},{"x":3.34,"y":0.87},{"x":3.45,"y":2.41},{"x":3.56,"y":3.31},{"x":3.64,"y":-0.31},{"x":3.2,"y":-0.42},{"x":3.38,"y":4.44},{"x":3.6,"y":1.47},
{"x":3.71,"y":2.24},{"x":3.74,"y":3.48},{"x":3.78,"y":0.73},{"x":3.82,"y":2.87},{"x":3.85,"y":4.27},{"x":3.89,"y":1.46},{"x":3.93,"y":3.11},{"x":3.96,"y":0.28},{"x":4.0,"y":2.36},{"x":4.04,"y":3.84},{"x":4.07,"y":1.09},{"x":4.11,"y":2.64},{"x":4.15,"y":4.41},{"x":4.18,"y":-0.19},{"x":4.22,"y":1.83},{"x":4.26,"y":3.32},{"x":3.76,"y":1.96},{"x":3.87,"y":-0.47},{"x":3.98,"y":4.62},{"x":4.09,"y":0.54},{"x":4.2,"y":2.97},{"x":4.28,"y":0.97},{"x":3.8,"y":3.97},
{"x":4.31,"y":2.48},{"x":4.35,"y":4.06},{"x":4.38,"y":1.22},{"x":4.42,"y":3.57},{"x":4.46,"y":0.41},{"x":4.49,"y":2.04},{"x":4.53,"y":3.14},{"x":4.57,"y":1.58},{"x":4.6,"y":4.49},{"x":4.64,"y":2.71},{"x":4.68,"y":0.87},{"x":4.71,"y":3.38},{"x":4.75,"y":1.91},{"x":4.79,"y":-0.36},{"x":4.82,"y":2.54},{"x":4.86,"y":3.77},{"x":4.9,"y":1.26},{"x":4.94,"y":2.93},{"x":4.98,"y":0.61},{"x":4.4,"y":-0.61},{"x":4.55,"y":2.33},{"x":4.7,"y":4.22},{"x":4.84,"y":1.58},
{"x":1.03,"y":1.94},{"x":1.08,"y":2.81},{"x":1.13,"y":0.98},{"x":1.17,"y":2.43},{"x":1.21,"y":3.22},{"x":1.25,"y":1.67},{"x":1.3,"y":2.82},{"x":1.34,"y":1.06},{"x":1.38,"y":2.38},{"x":1.42,"y":3.54},{"x":1.46,"y":1.71},{"x":1.5,"y":2.82},{"x":1.53,"y":0.94},{"x":1.57,"y":2.37},{"x":1.6,"y":3.23},{"x":1.64,"y":1.37},{"x":1.67,"y":2.41},{"x":1.71,"y":3.61},{"x":1.75,"y":1.98},{"x":1.79,"y":1.16},{"x":1.83,"y":2.87},{"x":1.87,"y":3.96},{"x":1.9,"y":1.44},{"x":1.93,"y":2.37},{"x":1.97,"y":3.36},{"x":2.0,"y":1.76},{"x":2.04,"y":0.88},{"x":2.08,"y":2.54},{"x":2.12,"y":3.81},{"x":2.15,"y":1.16},{"x":2.19,"y":2.38},{"x":2.23,"y":3.46},{"x":2.26,"y":2.02},{"x":2.3,"y":1.22},{"x":2.34,"y":3.11},{"x":2.37,"y":2.46},{"x":2.41,"y":4.31},{"x":2.44,"y":1.76},{"x":2.48,"y":3.17},{"x":2.51,"y":0.92},{"x":2.56,"y":2.26},{"x":2.6,"y":3.08},{"x":2.64,"y":1.86},{"x":2.68,"y":4.36},{"x":2.72,"y":2.82},{"x":2.76,"y":1.57},{"x":2.79,"y":3.38},{"x":2.83,"y":2.63},{"x":2.87,"y":1.02},{"x":2.9,"y":2.42},{"x":2.93,"y":3.57},{"x":2.97,"y":1.61},{"x":3.01,"y":3.22},{"x":3.04,"y":2.46},{"x":3.08,"y":1.24},{"x":3.12,"y":4.08},{"x":3.16,"y":2.18},{"x":3.19,"y":2.92},{"x":3.23,"y":0.96},{"x":3.27,"y":3.77},{"x":3.3,"y":2.12},{"x":3.34,"y":1.28},{"x":3.37,"y":2.64},{"x":3.41,"y":3.41},{"x":3.45,"y":1.47},{"x":3.49,"y":2.86},{"x":3.52,"y":0.71},{"x":3.56,"y":2.38},{"x":3.6,"y":3.61},{"x":3.63,"y":1.84},{"x":3.67,"y":2.94},{"x":3.7,"y":1.21},{"x":3.73,"y":4.04},{"x":3.77,"y":2.61},{"x":3.81,"y":1.66},{"x":3.84,"y":3.21},{"x":3.88,"y":2.07},{"x":3.91,"y":0.94},{"x":3.95,"y":2.76},{"x":3.99,"y":3.57},{"x":4.02,"y":1.62},{"x":4.06,"y":2.92},{"x":4.1,"y":1.94},{"x":4.13,"y":3.56},{"x":4.17,"y":1.27},{"x":4.21,"y":2.41},{"x":4.24,"y":3.84},{"x":4.29,"y":1.63},{"x":4.33,"y":2.86},{"x":4.37,"y":0.93},{"x":4.41,"y":2.27},{"x":4.45,"y":3.21},{"x":4.5,"y":1.36},{"x":4.54,"y":3.88},{"x":4.59,"y":2.12},{"x":4.63,"y":1.13},{"x":4.67,"y":2.96},{"x":4.72,"y":1.43},{"x":4.77,"y":2.18},{"x":0.86,"y":1.81},{"x":0.9,"y":2.48}],
"fa":[{"x":0.0,"y":3.0},{"x":11.15,"y":-0.36}],
"fb":[{"x":-1.28,"y":2.94},{"x":9.34,"y":0.69}],
"fc":[{"x":-0.81,"y":3.34},{"x":11.68,"y":-0.66}],
"fd":[{"x":-1.44,"y":3.45},{"x":10.13,"y":-0.06}]
},
"columns":2,
"spacing":{"row":106,"column":106},
"bounds":"flush",
"concat":[
{"width":470,"height":290,"layer":[
{"data":{"name":"a"},"mark":{"type":"point"},
"encoding":{"x":{"field":"x","type":"quantitative","scale":{"domain":[-0.35,11.52],"nice":false,"zero":false},"axis":{"values":[0,5,10],"title":"MP"}},
"y":{"field":"y","type":"quantitative","scale":{"domain":[-16.4,6.1],"nice":false,"zero":false},"axis":{"values":[-15,-10,-5,0,5],"title":"Rₘₒₘ"}}}},
{"data":{"name":"fa"},"mark":{"type":"line","color":"#90353b","strokeWidth":2},"encoding":{"x":{"field":"x","type":"quantitative"},"y":{"field":"y","type":"quantitative"}}}
]},
{"width":470,"height":290,"layer":[
{"data":{"name":"b"},"mark":{"type":"point"},
"encoding":{"x":{"field":"x","type":"quantitative","scale":{"domain":[-1.64,10.37],"nice":false,"zero":false},"axis":{"values":[0,5,10],"title":"MP"}},
"y":{"field":"y","type":"quantitative","scale":{"domain":[-10.8,6.4],"nice":false,"zero":false},"axis":{"values":[-10,-5,0,5],"title":"Rₘₒₘ"}}}},
{"data":{"name":"fb"},"mark":{"type":"line","color":"#90353b","strokeWidth":2},"encoding":{"x":{"field":"x","type":"quantitative"},"y":{"field":"y","type":"quantitative"}}}
]},
{"width":470,"height":291,"layer":[
{"data":{"name":"c"},"mark":{"type":"point"},
"encoding":{"x":{"field":"x","type":"quantitative","scale":{"domain":[-1.32,15.53],"nice":false,"zero":false},"axis":{"values":[0,5,10,15],"title":"MP"}},
"y":{"field":"y","type":"quantitative","scale":{"domain":[-16.15,7.0],"nice":false,"zero":false},"axis":{"values":[-15,-10,-5,0,5],"title":"Rₘₒₘ"}}}},
{"data":{"name":"fc"},"mark":{"type":"line","color":"#90353b","strokeWidth":2},"encoding":{"x":{"field":"x","type":"quantitative"},"y":{"field":"y","type":"quantitative"}}}
]},
{"width":470,"height":291,"layer":[
{"data":{"name":"d"},"mark":{"type":"point"},
"encoding":{"x":{"field":"x","type":"quantitative","scale":{"domain":[-5.49,10.62],"nice":false,"zero":false},"axis":{"values":[-5,0,5,10],"title":"MP"}},
"y":{"field":"y","type":"quantitative","scale":{"domain":[-11.86,6.2],"nice":false,"zero":false},"axis":{"values":[-10,-5,0,5],"title":"Rₘₒₘ"}}}},
{"data":{"name":"fd"},"mark":{"type":"line","color":"#90353b","strokeWidth":2},"encoding":{"x":{"field":"x","type":"quantitative"},"y":{"field":"y","type":"quantitative"}}}
]}
]
}
